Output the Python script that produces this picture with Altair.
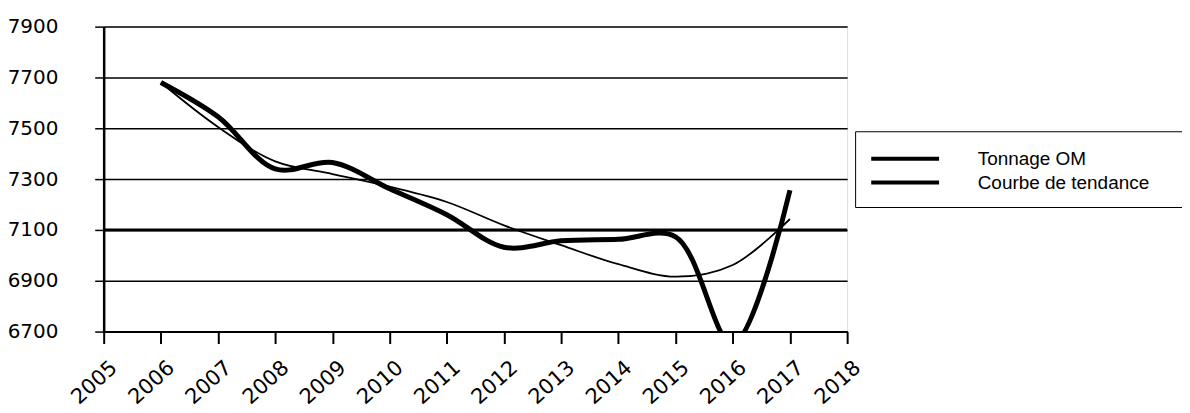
import altair as alt
import pandas as pd

years = [2006, 2007, 2008, 2009, 2010, 2011, 2012, 2013, 2014, 2015, 2016, 2017]
tonnage = [7680, 7545, 7340, 7365, 7262, 7160, 7032, 7057, 7063, 7073, 6650, 7256]
tendance = [7680, 7505, 7370, 7320, 7270, 7210, 7118, 7040, 6965, 6916, 6962, 7143]
series_names = ["Tonnage OM", "Courbe de tendance"]
x_ticks = list(range(2005, 2019))
y_ticks = [6700, 6900, 7100, 7300, 7500, 7700, 7900]
heavy_grid = [7100]

rows = []
for y, v in zip(years, tonnage):
    rows.append({"annee": y, "valeur": v, "serie": series_names[0]})
for y, v in zip(years, tendance):
    rows.append({"annee": y, "valeur": v, "serie": series_names[1]})
df = pd.DataFrame(rows)
df_heavy = pd.DataFrame({"valeur": heavy_grid})

xs = alt.Scale(domain=[2005, 2018], nice=False, zero=False)
ys = alt.Scale(domain=[6700, 7900], nice=False, zero=False)

color = alt.Color(
    "serie:N",
    scale=alt.Scale(domain=series_names, range=["black", "black"]),
    legend=alt.Legend(
        title=" ",
        titleOrient="right",
        titlePadding=25,
        orient="none",
        legendX=754,
        legendY=105,
        symbolType="M-1,0H5",
        symbolSize=515,
        symbolStrokeWidth=4,
        symbolStrokeColor="black",
        labelFont="Liberation Sans",
        labelFontSize=19,
        labelColor="black",
        labelOffset=82,
        labelLimit=400,
        rowPadding=0,
        padding=14,
        strokeColor="black",
        fillColor="white",
    ),
)

x_enc = alt.X(
    "annee:Q",
    scale=xs,
    axis=alt.Axis(
        values=x_ticks,
        format="d",
        title=None,
        grid=False,
        labelAngle=-42,
        labelAlign="right",
        labelBaseline="top",
        labelPadding=13,
        labelOffset=3,
        labelFont="DejaVu Sans",
        labelFontSize=21,
        labelColor="black",
        tickSize=12,
        tickColor="black",
        tickWidth=2,
        domainColor="black",
        domainWidth=2,
    ),
)
y_enc = alt.Y(
    "valeur:Q",
    scale=ys,
    axis=alt.Axis(
        values=y_ticks,
        format="d",
        title=None,
        grid=True,
        gridColor="black",
        gridWidth=1.5,
        labelPadding=37,
        labelFont="DejaVu Sans",
        labelFontSize=20,
        labelColor="black",
        tickSize=9,
        tickColor="black",
        tickWidth=1.5,
        domainColor="black",
        domainWidth=2.5,
    ),
)

heavy = alt.Chart(df_heavy).mark_rule(color="black", strokeWidth=3).encode(
    y=alt.Y("valeur:Q", scale=ys)
)

trend_line = (
    alt.Chart(df)
    .transform_filter(alt.datum.serie == series_names[1])
    .mark_line(strokeWidth=1.8, interpolate="catmull-rom", clip=True)
    .encode(x=x_enc, y=y_enc, color=color)
)
data_line = (
    alt.Chart(df)
    .transform_filter(alt.datum.serie == series_names[0])
    .mark_line(strokeWidth=5, interpolate="catmull-rom", clip=True)
    .encode(x=x_enc, y=y_enc, color=color)
)

chart = (
    alt.layer(heavy, trend_line, data_line)
    .properties(
        width=746,
        height=306,
        autosize=alt.AutoSizeParams(type="none"),
        padding={"left": 96, "top": 18, "right": 336, "bottom": 79},
    )
    .configure_view(stroke="black", strokeWidth=1.5, fill="white")
    .configure(background="white")
)

chart.save("out.html", embed_options={"renderer": "svg", "actions": False})
